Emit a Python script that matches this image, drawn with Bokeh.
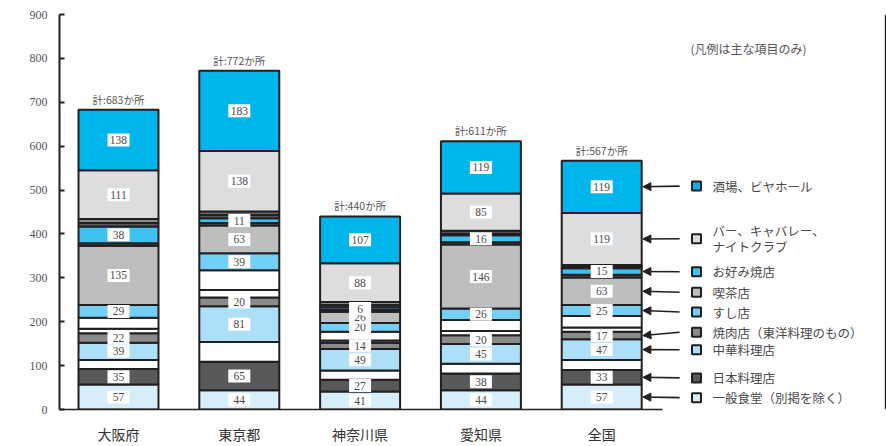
import numpy as np
from bokeh.plotting import figure
from bokeh.models import (ColumnDataSource, Range1d, FixedTicker, Arrow, NormalHead, Span)
from bokeh.core.properties import value
from bokeh.embed import file_html
from bokeh.resources import INLINE

# ---------------- data ----------------
regions = ["大阪府", "東京都", "神奈川県", "愛知県", "全国"]
totals = [683, 772, 440, 611, 567]

ippan_shokudo = [57, 44, 41, 44, 57]      # 一般食堂（別掲を除く）
nihon_ryori = [35, 65, 27, 38, 33]        # 日本料理店
other_a = [21, 45, 21, 22, 23]            # (unlabeled)
chuka = [39, 81, 49, 45, 47]              # 中華料理店
yakiniku = [22, 20, 14, 20, 17]           # 焼肉店
other_b = [10, 17, 5, 10, 10]             # (unlabeled)
other_c = [25, 45, 20, 25, 26]            # (unlabeled)
sushi = [29, 39, 20, 26, 25]              # すし店
kissa = [135, 63, 26, 146, 63]            # 喫茶店
other_d = [6, 6, 4, 5, 6]                 # (unlabeled)
okonomiyaki = [38, 11, 6, 16, 15]         # お好み焼店
other_e1 = [8, 8, 5, 4, 3]                # (unlabeled)
other_e2 = [9, 7, 7, 6, 4]                # (unlabeled)
bar_cabaret = [111, 138, 88, 85, 119]     # バー、キャバレー、ナイトクラブ
sakaba = [138, 183, 107, 119, 119]        # 酒場、ビヤホール

yticks = [0, 100, 200, 300, 400, 500, 600, 700, 800, 900]

# series in stacking order (bottom -> top): (values, colour, labelled?)
series = [
    (ippan_shokudo, "#d6eefa", True),
    (nihon_ryori, "#58595b", True),
    (other_a, "#ffffff", False),
    (chuka, "#ade0f8", True),
    (yakiniku, "#898a8c", True),
    (other_b, "#ffffff", False),
    (other_c, "#ffffff", False),
    (sushi, "#72cff5", True),
    (kissa, "#bdbec0", True),
    (other_d, "#58595b", False),
    (okonomiyaki, "#3ec1ef", True),
    (other_e1, "#58595b", False),
    (other_e2, "#8a8b8d", False),
    (bar_cabaret, "#dcdddf", True),
    (sakaba, "#00b5ec", True),
]

# legend entries (top -> bottom): (series values, colour, text)
legend_items = [
    (sakaba, "#00b5ec", "酒場、ビヤホール"),
    (bar_cabaret, "#dcdddf", "バー、キャバレー、\nナイトクラブ"),
    (okonomiyaki, "#3ec1ef", "お好み焼店"),
    (kissa, "#bdbec0", "喫茶店"),
    (sushi, "#72cff5", "すし店"),
    (yakiniku, "#898a8c", "焼肉店（東洋料理のもの）"),
    (chuka, "#ade0f8", "中華料理店"),
    (nihon_ryori, "#58595b", "日本料理店"),
    (ippan_shokudo, "#d6eefa", "一般食堂（別掲を除く）"),
]
legend_y = [509, 389, 314, 267, 222, 176, 136, 72, 27]

# ---------------- layout ----------------
LINE = "#231f20"
TXT = "#4a4a4a"
JP = "Noto Sans CJK JP"
SERIF = "Liberation Serif"

x = np.arange(len(regions))
bar_w = 0.662

p = figure(width=886, height=446, output_backend="svg", toolbar_location=None,
           x_range=Range1d(-0.4884, 6.3576), y_range=Range1d(0, 900),
           min_border_left=59, min_border_right=0, min_border_top=14, min_border_bottom=34)
p.outline_line_color = None
p.xgrid.visible = False
p.ygrid.visible = False
p.background_fill_color = "white"
p.border_fill_color = "white"

# stacked bars
bottom = np.zeros(len(regions))
centers = {}
for vals, col, labelled in series:
    v = np.array(vals, dtype=float)
    top = bottom + v
    src = ColumnDataSource(dict(x=x, bottom=bottom.copy(), top=top))
    p.vbar(x="x", width=bar_w, bottom="bottom", top="top", source=src,
           fill_color=col, line_color=LINE, line_width=2)
    centers[id(vals)] = (bottom + top) / 2
    bottom = top

# value labels
for vals, col, labelled in series:
    if not labelled:
        continue
    cy = centers[id(vals)]
    src = ColumnDataSource(dict(x=x, y=cy, t=[str(v) for v in vals]))
    p.rect(x="x", y="y", width=22, height=13, width_units="screen", height_units="screen",
           fill_color="white", line_color=None, source=src)
    p.text(x="x", y="y", text="t", source=src, text_align="center", text_baseline="middle",
           text_font=value(SERIF), text_font_size="11.5px", text_color=TXT)

# totals above bars
tsrc = ColumnDataSource(dict(x=x, y=totals, t=[f"計:{t}か所" for t in totals]))
p.text(x="x", y="y", text="t", source=tsrc, text_align="center", text_baseline="bottom",
       y_offset=-3, text_font=value(JP), text_font_size="10.5px", text_color="#555555")

# legend with arrows pointing at the 全国 bar
last = len(regions) - 1
arrow_x0 = 4.645
arrow_x1 = last + bar_w / 2 + 0.01
sq_x = 4.785
txt_x = 4.917
for (vals, col, label), ly in zip(legend_items, legend_y):
    cy = centers[id(vals)][last]
    p.add_layout(Arrow(end=NormalHead(size=8, fill_color=LINE, line_color=LINE),
                       x_start=arrow_x0, y_start=ly, x_end=arrow_x1, y_end=cy,
                       line_color=LINE, line_width=1.6))
    p.rect(x=[sq_x], y=[ly], width=9, height=9, width_units="screen", height_units="screen",
           fill_color=col, line_color=LINE, line_width=2)
    p.text(x=[txt_x], y=[ly], text=[label], text_align="left", text_baseline="middle",
           text_font=value(JP), text_font_size="12.5px", text_color=TXT, text_line_height=0.85)

p.text(x=[4.735], y=[823], text=["(凡例は主な項目のみ)"], text_align="left",
       text_baseline="middle", text_font=value(JP), text_font_size="12px", text_color="#555555")

# right frame line
p.add_layout(Span(location=6.35, dimension="height", line_color=LINE, line_width=1.5))

# axes
yax = p.yaxis[0]
yax.ticker = FixedTicker(ticks=yticks)
yax.axis_line_color = LINE
yax.axis_line_width = 2
yax.major_tick_in = 5
yax.major_tick_out = 0
yax.major_tick_line_color = LINE
yax.major_tick_line_width = 2
yax.minor_tick_line_color = None
yax.major_label_standoff = 12
yax.major_label_text_font = SERIF
yax.major_label_text_font_size = "12px"
yax.major_label_text_color = "#555555"

xax = p.xaxis[0]
xax.ticker = FixedTicker(ticks=list(x))
xax.major_label_overrides = {int(i): r for i, r in zip(x, regions)}
xax.bounds = (-0.4884, 4.5)
xax.axis_line_color = LINE
xax.axis_line_width = 1.5
xax.major_tick_line_color = None
xax.minor_tick_line_color = None
xax.major_label_standoff = 8
xax.major_label_text_font = JP
xax.major_label_text_font_size = "14px"
xax.major_label_text_color = "#333333"

open("out.html", "w").write(file_html(p, INLINE))
